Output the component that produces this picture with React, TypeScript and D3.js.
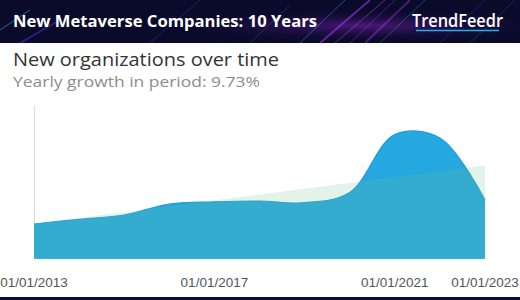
import React from 'react';
import * as d3 from 'd3';

const years = [2013, 2014, 2015, 2016, 2017, 2018, 2019, 2020, 2021, 2022, 2023];
const newOrgs = [35, 39.7, 44, 55, 57.2, 58, 56.3, 66.5, 124.5, 121, 59];
const trendYears = [2013, 2023];
const trendValues = [35.3, 93.5];
const tickYears = [2013, 2017, 2021, 2023];
const tickLabels = ['01/01/2013', '01/01/2017', '01/01/2021', '01/01/2023'];
const headerTitle = 'New Metaverse Companies: 10 Years';
const brand = 'TrendFeedr';
const chartTitle = 'New organizations over time';
const chartSubtitle = 'Yearly growth in period: 9.73%';

// decorative streaks in header: [x1, y1, x2, y2, color, opacity, width]
const streaks: [number, number, number, number, string, number, number][] = [
  [0, 30, 30, 10, '#2ad0ff', 0.5, 1],
  [20, 43, 60, 20, '#6a3cff', 0.4, 2],
  [150, 43, 200, 0, '#3a4cff', 0.35, 1],
  [250, 43, 290, 5, '#4a6cff', 0.3, 1],
  [300, 43, 345, 0, '#3fb0ff', 0.45, 1],
  [320, 43, 370, 0, '#b040ff', 0.5, 2],
  [335, 43, 385, 0, '#d050ff', 0.45, 1],
  [350, 43, 395, 0, '#7a50ff', 0.4, 1],
  [365, 43, 410, 0, '#c040f0', 0.35, 2],
  [380, 43, 425, 0, '#5ac8ff', 0.3, 1],
  [440, 43, 485, 0, '#6a40ff', 0.3, 1],
  [470, 43, 515, 0, '#3a8cff', 0.25, 1],
];

export default function App() {
  const x = d3.scaleLinear().domain([2013, 2023]).range([34, 485]);
  const y = d3.scaleLinear().domain([0, 153]).range([259, 106]);

  const area = d3
    .area<number>()
    .x((_, i) => x(years[i]))
    .y0(y(0))
    .y1((d) => y(d))
    .curve(d3.curveCatmullRom.alpha(0.5));
  const line = d3
    .line<number>()
    .x((_, i) => x(years[i]))
    .y((d) => y(d))
    .curve(d3.curveCatmullRom.alpha(0.5));
  const trendArea = d3
    .area<number>()
    .x((_, i) => x(trendYears[i]))
    .y0(y(0))
    .y1((d) => y(d));

  return (
    <svg
      width={520}
      height={300}
      style={{ position: 'fixed', left: 0, top: 0, background: '#fff' }}
    >
      <defs>
        <radialGradient id="glow" cx="0.7" cy="0.6" r="0.4">
          <stop offset="0%" stopColor="#5a1c8c" stopOpacity={0.8} />
          <stop offset="100%" stopColor="#0a0a2c" stopOpacity={0} />
        </radialGradient>
      </defs>
      <rect x={0} y={0} width={520} height={43} fill="#0a0a2a" />
      <rect x={0} y={0} width={520} height={43} fill="url(#glow)" />
      {streaks.map((s, i) => (
        <line
          key={i}
          x1={s[0]}
          y1={s[1]}
          x2={s[2]}
          y2={s[3]}
          stroke={s[4]}
          strokeOpacity={s[5]}
          strokeWidth={s[6]}
        />
      ))}
      <text
        x={13}
        y={27}
        fill="#fff"
        fontFamily="'Open Sans', sans-serif"
        fontWeight={700}
        fontSize={16}
        textLength={304}
        lengthAdjust="spacingAndGlyphs"
      >
        {headerTitle}
      </text>
      <text
        x={412}
        y={27}
        fill="#fff"
        fontFamily="'Open Sans', sans-serif"
        fontWeight={600}
        fontSize={18}
        textLength={91}
        lengthAdjust="spacingAndGlyphs"
      >
        {brand}
      </text>
      <line x1={416} x2={499} y1={30.5} y2={30.5} stroke="#19b5ea" strokeWidth={1.5} />

      <text
        x={13}
        y={66}
        fill="#333"
        fontFamily="'Open Sans', sans-serif"
        fontSize={18.5}
        textLength={266}
        lengthAdjust="spacingAndGlyphs"
      >
        {chartTitle}
      </text>
      <text
        x={13}
        y={87}
        fill="#8c8c8c"
        fontFamily="'Open Sans', sans-serif"
        fontSize={15}
        textLength={247}
        lengthAdjust="spacingAndGlyphs"
      >
        {chartSubtitle}
      </text>

      <line x1={34.5} x2={34.5} y1={106} y2={259} stroke="#dcdcdc" strokeWidth={1} />
      <path d={area(newOrgs) || ''} fill="#25a7df" />
      <path d={line(newOrgs) || ''} fill="none" stroke="#1e9ed9" strokeWidth={1.2} />
      <path d={trendArea(trendValues) || ''} fill="rgb(115,195,145)" fillOpacity={0.2} />
      <line x1={34} x2={485} y1={258.5} y2={258.5} stroke="#3ab6dd" strokeWidth={1} />

      {tickYears.map((t, i) => (
        <text
          key={t}
          x={x(t)}
          y={287}
          textAnchor="middle"
          fill="#555"
          fontFamily="'Liberation Sans', Arial, sans-serif"
          fontSize={13.5}
        >
          {tickLabels[i]}
        </text>
      ))}

      <rect x={0} y={297} width={520} height={3} fill="#0d0c3a" />
    </svg>
  );
}
